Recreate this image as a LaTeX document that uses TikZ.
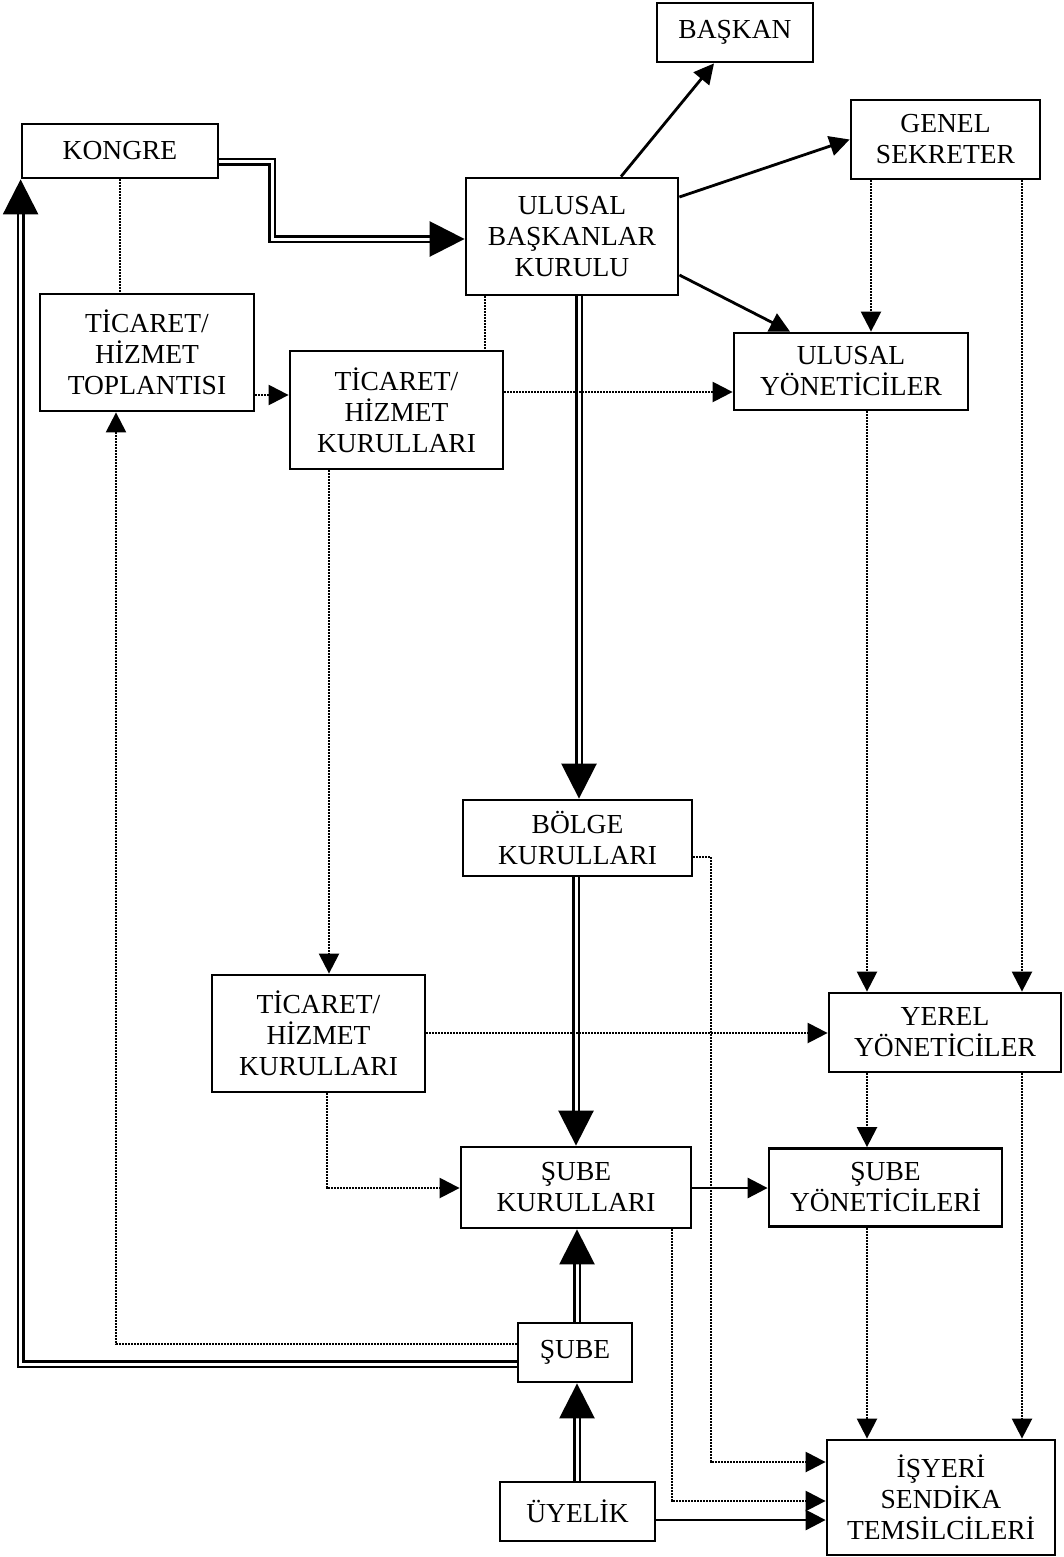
\documentclass[tikz,border=0pt]{standalone}
\usepackage{fontspec}
\setmainfont{Liberation Serif}
\usetikzlibrary{arrows.meta}
\begin{document}
\begin{tikzpicture}[x=1pt,y=-1pt,
 box/.style={draw, line width=2.8pt, inner sep=0pt, align=center, font=\fontsize{27.5}{31}\selectfont},
 sm/.style={-{Triangle[length=20pt,width=20pt]}},
 big/.style={-{Triangle[length=35pt,width=35pt]}},
 solidln/.style={line width=2.8pt},
 dotln/.style={line width=2.4pt, dash pattern=on 1.8pt off 1.2pt},
 dbl/.style={double, line width=2.6pt, double distance=3pt},
]
\path[fill=white, use as bounding box] (0,0) rectangle (1063,1557);

% nodes
\node[box, minimum width=156pt, minimum height=59pt] (baskan) at (735,32.5) {BAŞKAN};
\node[box, minimum width=196pt, minimum height=54pt] (kongre) at (120,151) {KONGRE};
\node[box, minimum width=212pt, minimum height=117pt] (ubk) at (572,236.5) {ULUSAL\\BAŞKANLAR\\KURULU};
\node[box, minimum width=189pt, minimum height=79pt] (genel) at (945.5,139.5) {GENEL\\SEKRETER};
\node[box, minimum width=214pt, minimum height=117pt] (tht) at (147,352.5) {TİCARET/\\HİZMET\\TOPLANTISI};
\node[box, minimum width=213pt, minimum height=118pt] (thk1) at (396.5,410) {TİCARET/\\HİZMET\\KURULLARI};
\node[box, minimum width=234pt, minimum height=77pt] (uy) at (851,371.5) {ULUSAL\\YÖNETİCİLER};
\node[box, minimum width=229pt, minimum height=76pt] (bolge) at (577.5,838) {BÖLGE\\KURULLARI};
\node[box, minimum width=213pt, minimum height=117pt] (thk2) at (318.5,1033.5) {TİCARET/\\HİZMET\\KURULLARI};
\node[box, minimum width=232pt, minimum height=79pt] (yerel) at (945,1032.5) {YEREL\\YÖNETİCİLER};
\node[box, minimum width=230pt, minimum height=81pt] (subek) at (576,1187.5) {ŞUBE\\KURULLARI};
\node[box, minimum width=233pt, minimum height=78pt] (subey) at (885.5,1187.5) {ŞUBE\\YÖNETİCİLERİ};
\node[box, minimum width=114pt, minimum height=59pt] (sube) at (575,1352.5) {ŞUBE};
\node[box, minimum width=155pt, minimum height=59pt] (uyelik) at (577.5,1511.5) {ÜYELİK};
\node[box, minimum width=228pt, minimum height=115pt] (isyeri) at (941,1497.5) {İŞYERİ\\SENDİKA\\TEMSİLCİLERİ};

% double connectors
\draw[dbl, big] (kongre.east |- 0,162) -- (272,162) -- (272,239) -- (ubk.west |- 0,239);
\draw[dbl, big] (ubk.south -| 579,0) -- (bolge.north -| 579,0);
\draw[dbl, big] (bolge.south -| 576,0) -- (subek.north -| 576,0);
\draw[dbl, big] (sube.north -| 577,0) -- (subek.south -| 577,0);
\draw[dbl, big] (uyelik.north -| 577,0) -- (sube.south -| 577,0);
\draw[dbl, big] (sube.west |- 0,1364) -| (kongre.south west);

% solid connectors
\draw[solidln, sm] (ubk.north -| 621,0) -- (baskan.south -| 714,0);
\draw[solidln, sm] (ubk.east |- 0,197) -- (genel.west);
\draw[solidln, sm] (ubk.east |- 0,275) -- (uy.north -| 790,0);
\draw[solidln, sm] (subek.east |- 0,1188) -- (subey.west |- 0,1188);
\draw[solidln, sm] (uyelik.east |- 0,1520) -- (isyeri.west |- 0,1520);

% dotted connectors
\draw[dotln] (kongre.south) -- (kongre.south |- tht.north);
\draw[dotln] (ubk.south -| 485,0) -- (thk1.north -| 485,0);
\draw[dotln, sm] (tht.east |- 0,395) -- (thk1.west |- 0,395);
\draw[dotln, sm] (thk1.east |- 0,392) -- (uy.west |- 0,392);
\draw[dotln, sm] (genel.south -| 871,0) -- (uy.north -| 871,0);
\draw[dotln, sm] (genel.south -| 1022,0) -- (yerel.north -| 1022,0);
\draw[dotln, sm] (uy.south -| 867,0) -- (yerel.north -| 867,0);
\draw[dotln, sm] (thk1.south -| 329,0) -- (thk2.north -| 329,0);
\draw[dotln, sm] (thk2.east |- 0,1033) -- (yerel.west |- 0,1033);
\draw[dotln, sm] (thk2.south -| 327,0) |- (subek.west |- 0,1188);
\draw[dotln, sm] (yerel.south -| 867,0) -- (subey.north -| 867,0);
\draw[dotln, sm] (subey.south -| 867,0) -- (isyeri.north -| 867,0);
\draw[dotln, sm] (yerel.south -| 1022,0) -- (isyeri.north -| 1022,0);
\draw[dotln, sm] (bolge.east |- 0,857) -- (711,857) -- (711,1462) -- (isyeri.west |- 0,1462);
\draw[dotln, sm] (subek.south -| 672,0) |- (isyeri.west |- 0,1501);
\draw[dotln, sm] (sube.west |- 0,1344) -| (tht.south -| 116,0);
\end{tikzpicture}
\end{document}
